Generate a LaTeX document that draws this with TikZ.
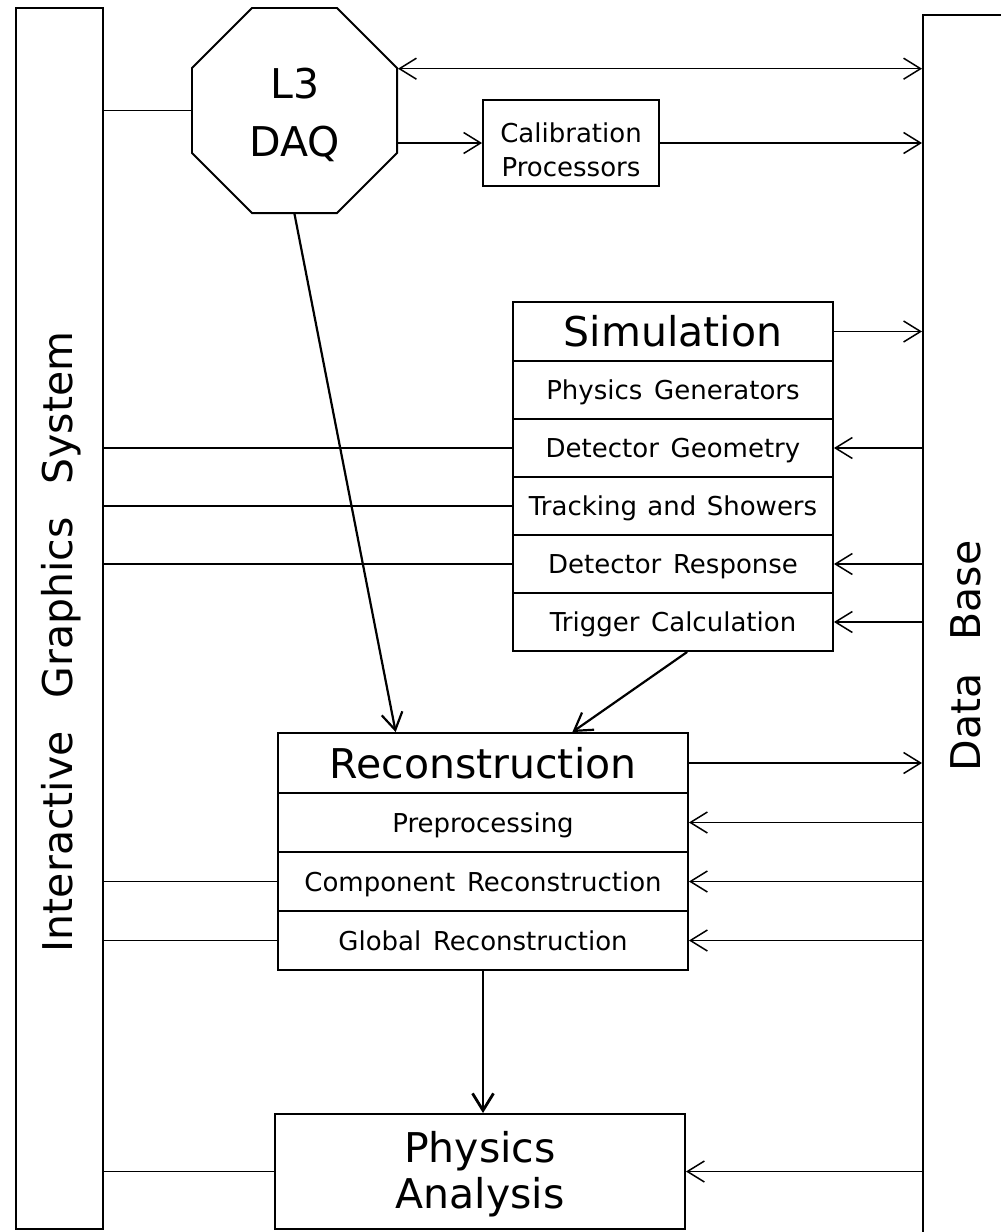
\documentclass[tikz,border=0pt]{standalone}
\usepackage{fontspec}
\setmainfont{DejaVu Sans}
\usetikzlibrary{arrows.meta,shapes.geometric,calc}
\newcommand\titlefont{\fontsize{41pt}{49pt}\selectfont}
\newcommand\itemfont{\fontsize{26pt}{31pt}\selectfont}
\begin{document}
\begin{tikzpicture}[x=1pt,y=-1pt,
  >={Straight Barb[length=17pt,width=21pt]},
  outline/.style={draw,line width=1.9pt,inner sep=0pt},
  cell/.style={outline,rectangle,text height=19pt,text depth=0pt,font=\itemfont},
  headcell/.style={outline,rectangle,text height=30pt,text depth=0pt,font=\titlefont},
  title/.style={font=\titlefont,inner sep=0pt,anchor=base},
  caption/.style={font=\itemfont,inner sep=0pt,anchor=base},
  wire/.style={line width=1.5pt},
  flow/.style={wire,->},
  mainflow/.style={line width=2.2pt,->},
]
\useasboundingbox (0,0) rectangle (1001,1232);
\fill[white] (0,0) rectangle (1001,1232);

% side panels
\node[outline,anchor=north west,minimum width=87pt,minimum height=1221pt] (igs) at (15,7) {};
\node[title,rotate=90] (igstext) at (72,642) {Interactive\hspace{0.8em}Graphics\hspace{0.8em}System};
\node[outline,anchor=north west,minimum width=120pt,minimum height=1240pt] (db) at (922,14) {};
\node[title,rotate=90] (dbtext) at (980,656) {Data\hspace{0.8em}Base};

% data acquisition
\node[outline,regular polygon,regular polygon sides=8,minimum size=222pt] (daq) at (294.5,110.5) {};
\node[title] (daqtop) at (295,98) {L3};
\node[title] (daqbot) at (295,156) {DAQ};

% calibration
\node[outline,rectangle,minimum width=176pt,minimum height=86pt] (cal) at (571,143) {};
\node[caption] (caltop) at (571,142) {Calibration};
\node[caption] (calbot) at (571,176) {Processors};

% simulation chain
\node[headcell,minimum width=320pt,minimum height=59pt] (sim) at (673,331.5) {Simulation};
\node[cell,minimum width=320pt,minimum height=58pt] (simgen) at (673,390) {Physics\hspace{0.45em}Generators};
\node[cell,minimum width=320pt,minimum height=58pt] (simgeo) at (673,448) {Detector\hspace{0.45em}Geometry};
\node[cell,minimum width=320pt,minimum height=58pt] (simtrk) at (673,506) {Tracking\hspace{0.4em}and\hspace{0.4em}Showers};
\node[cell,minimum width=320pt,minimum height=58pt] (simresp) at (673,564) {Detector\hspace{0.45em}Response};
\node[cell,minimum width=320pt,minimum height=58pt] (simtrig) at (673,622) {Trigger\hspace{0.45em}Calculation};

% reconstruction chain
\node[headcell,minimum width=410pt,minimum height=60pt] (rec) at (483,763) {Reconstruction};
\node[cell,minimum width=410pt,minimum height=59pt] (recpre) at (483,822.5) {Preprocessing};
\node[cell,minimum width=410pt,minimum height=59pt] (reccomp) at (483,881.5) {Component\hspace{0.45em}Reconstruction};
\node[cell,minimum width=410pt,minimum height=59pt] (recglob) at (483,940.5) {Global\hspace{0.45em}Reconstruction};

% analysis
\node[outline,rectangle,minimum width=410pt,minimum height=115pt] (phys) at (480,1171.5) {};
\node[title] (phystop) at (480,1162) {Physics};
\node[title] (physbot) at (480,1208) {Analysis};

% links to the graphics system
\draw[wire] (igs.east |- daq.west) -- (daq.west);
\foreach \n in {simgeo,simtrk,simresp,reccomp,recglob,phys}
  \draw[wire] (igs.east |- \n.west) -- (\n.west);

% links to the data base
\draw[wire,<->] (daq.22.5) -- (daq.22.5 -| db.west);
\draw[flow] (daq.east |- cal.west) -- (cal.west);
\draw[flow] (cal.east) -- (cal.east -| db.west);
\draw[flow] (sim.east) -- (sim.east -| db.west);
\draw[flow] (rec.east) -- (rec.east -| db.west);
\foreach \n in {simgeo,simresp,simtrig,recpre,reccomp,recglob,phys}
  \draw[flow] (\n.east -| db.west) -- (\n.east);

% main data flow
\draw[mainflow] (daq.south) -- ($(rec.north west)!0.288!(rec.north east)$);
\draw[mainflow] ($(simtrig.south west)!0.544!(simtrig.south east)$) -- ($(rec.north west)!0.717!(rec.north east)$);
\draw[line width=2.8pt,->] (recglob.south) -- (recglob.south |- phys.north);
\end{tikzpicture}
\end{document}
